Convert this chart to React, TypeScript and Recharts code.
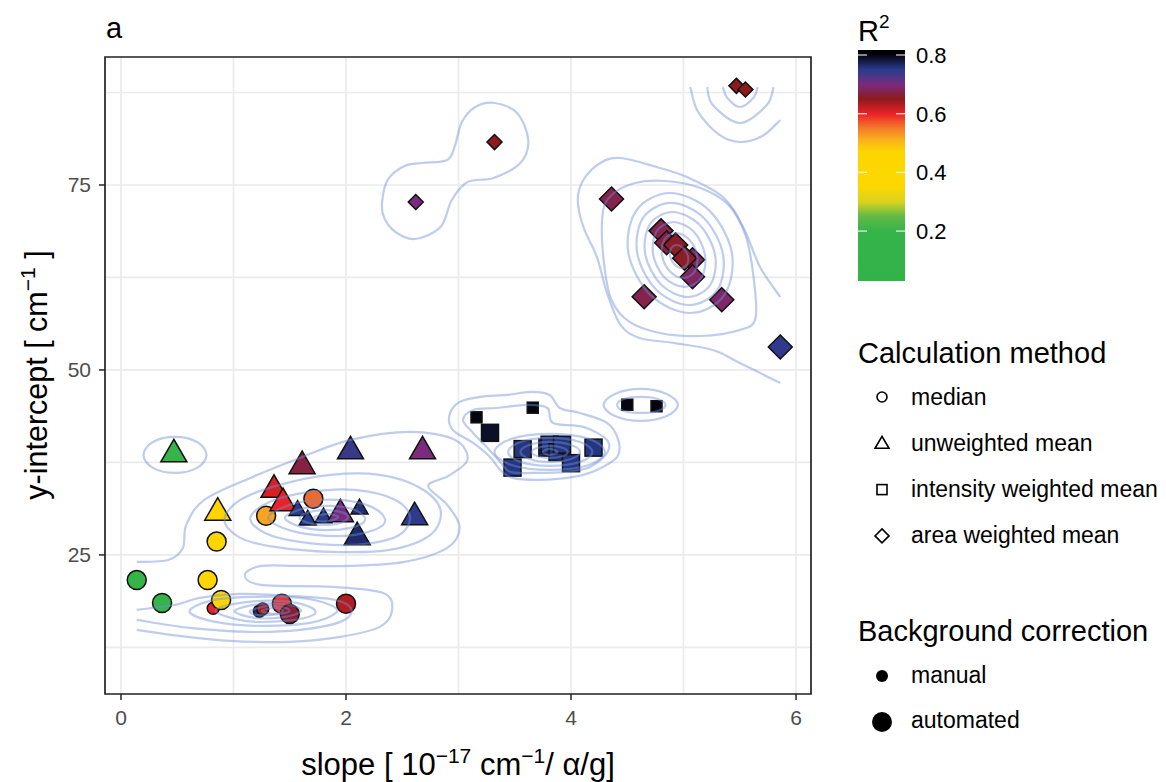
import React from 'react';
import { ComposedChart, Scatter, Line, XAxis, YAxis, ReferenceLine, ReferenceArea } from 'recharts';

interface Pt {
  x: number;
  y: number;
  r2: number;
  big: boolean;
}

type Ring = [number, number][];

const FONT = '"Liberation Sans", Arial, Helvetica, sans-serif';

// points per calculation method
const medianPts: Pt[] = [
  { x: 0.14, y: 21.6, r2: 0.18, big: true },
  { x: 0.365, y: 18.5, r2: 0.2, big: true },
  { x: 0.77, y: 21.6, r2: 0.42, big: true },
  { x: 0.85, y: 26.8, r2: 0.45, big: true },
  { x: 0.82, y: 17.8, r2: 0.6, big: false },
  { x: 0.89, y: 18.9, r2: 0.44, big: true },
  { x: 1.29, y: 30.3, r2: 0.52, big: true },
  { x: 1.71, y: 32.6, r2: 0.56, big: true },
  { x: 1.23, y: 17.4, r2: 0.76, big: false },
  { x: 1.26, y: 17.7, r2: 0.64, big: false },
  { x: 1.43, y: 18.4, r2: 0.59, big: true },
  { x: 1.5, y: 17.0, r2: 0.66, big: true },
  { x: 2.0, y: 18.4, r2: 0.63, big: true },
];

const unweightedPts: Pt[] = [
  { x: 0.47, y: 38.6, r2: 0.2, big: true },
  { x: 0.86, y: 30.7, r2: 0.42, big: true },
  { x: 1.61, y: 37.0, r2: 0.67, big: true },
  { x: 1.36, y: 33.8, r2: 0.61, big: true },
  { x: 1.44, y: 32.0, r2: 0.6, big: true },
  { x: 1.57, y: 31.0, r2: 0.745, big: false },
  { x: 1.66, y: 29.7, r2: 0.75, big: false },
  { x: 1.8, y: 30.0, r2: 0.75, big: false },
  { x: 1.95, y: 30.5, r2: 0.7, big: true },
  { x: 2.12, y: 31.2, r2: 0.76, big: false },
  { x: 2.1, y: 27.4, r2: 0.765, big: true },
  { x: 2.04, y: 39.0, r2: 0.74, big: true },
  { x: 2.68, y: 39.0, r2: 0.7, big: true },
  { x: 2.61, y: 30.1, r2: 0.745, big: true },
];

const intensityPts: Pt[] = [
  { x: 3.16, y: 43.6, r2: 0.8, big: false },
  { x: 3.28, y: 41.5, r2: 0.79, big: true },
  { x: 3.66, y: 44.9, r2: 0.8, big: false },
  { x: 4.5, y: 45.3, r2: 0.8, big: false },
  { x: 4.76, y: 45.1, r2: 0.8, big: false },
  { x: 3.57, y: 39.3, r2: 0.755, big: true },
  { x: 3.48, y: 36.8, r2: 0.755, big: true },
  { x: 3.79, y: 39.5, r2: 0.76, big: true },
  { x: 3.81, y: 39.9, r2: 0.755, big: true },
  { x: 3.88, y: 38.9, r2: 0.76, big: true },
  { x: 3.92, y: 39.9, r2: 0.755, big: true },
  { x: 4.0, y: 37.4, r2: 0.755, big: true },
  { x: 4.2, y: 39.5, r2: 0.755, big: true },
];

const areaPts: Pt[] = [
  { x: 2.62, y: 72.7, r2: 0.7, big: false },
  { x: 3.32, y: 80.8, r2: 0.65, big: false },
  { x: 5.47, y: 88.4, r2: 0.65, big: false },
  { x: 5.55, y: 87.9, r2: 0.65, big: false },
  { x: 4.36, y: 73.1, r2: 0.675, big: true },
  { x: 4.65, y: 59.9, r2: 0.675, big: true },
  { x: 5.34, y: 59.5, r2: 0.69, big: true },
  { x: 4.8, y: 68.8, r2: 0.675, big: true },
  { x: 4.85, y: 67.2, r2: 0.67, big: true },
  { x: 4.93, y: 66.9, r2: 0.655, big: true },
  { x: 5.08, y: 64.9, r2: 0.69, big: true },
  { x: 5.01, y: 65.1, r2: 0.655, big: true },
  { x: 5.08, y: 62.6, r2: 0.685, big: true },
  { x: 5.86, y: 53.1, r2: 0.745, big: true },
];

const xTicks = [0, 2, 4, 6];
const yTicks = [25, 50, 75];
const xMinor = [1, 3, 5];
const yMinor = [12.5, 37.5, 62.5, 87.5];
const r2Ticks = [0.2, 0.4, 0.6, 0.8];
const r2Range = [0.03, 0.817];

const colorStops: [number, string][] = [
  [0.03, '#33b24a'],
  [0.2, '#35b44a'],
  [0.25, '#62b946'],
  [0.3, '#d9d320'],
  [0.35, '#fdd700'],
  [0.47, '#fdd600'],
  [0.51, '#f9b21b'],
  [0.55, '#f47b2a'],
  [0.6, '#ea2128'],
  [0.65, '#8e1a1c'],
  [0.7, '#7a2b7e'],
  [0.75, '#283c8e'],
  [0.8, '#05040f'],
  [0.817, '#000000'],
];

// density contours (closed rings)
const peanut: Ring = [[2.32, 72.57], [2.37, 75.68], [2.52, 77.57], [2.68, 77.97], [2.9, 78.38], [2.97, 80.41], [3.03, 83.51], [3.15, 85.54], [3.32, 86.08], [3.52, 84.73], [3.62, 81.08], [3.55, 77.97], [3.31, 75.95], [3.08, 75.41], [2.94, 72.97], [2.84, 69.32], [2.61, 67.7], [2.44, 68.65], [2.34, 70.54]];
const greenRing: Ring = [[0.76, 38.51], [0.68, 36.8], [0.48, 36.08], [0.28, 36.8], [0.2, 38.51], [0.28, 40.23], [0.48, 40.95], [0.68, 40.23]];
const blackRing1: Ring = [[4.95, 45.27], [4.85, 43.78], [4.62, 43.11], [4.39, 43.78], [4.29, 45.27], [4.39, 46.76], [4.62, 47.43], [4.85, 46.76]];
const blackRing2: Ring = [[4.84, 45.27], [4.77, 44.46], [4.62, 44.19], [4.47, 44.46], [4.41, 45.27], [4.47, 46.08], [4.62, 46.35], [4.77, 46.08]];
const sq1: Ring = [[2.92, 43.92], [3.01, 45.68], [3.19, 46.35], [3.43, 46.62], [3.64, 47.03], [3.81, 46.62], [3.9, 44.86], [4.08, 44.19], [4.32, 42.84], [4.42, 40.54], [4.41, 38.24], [4.23, 36.49], [4.02, 35.54], [3.72, 35.14], [3.48, 35.41], [3.37, 36.49], [3.28, 38.24], [3.13, 40.14], [2.95, 41.89]];
const sq2: Ring = [[3.04, 43.24], [3.13, 44.59], [3.34, 44.86], [3.61, 45.27], [3.79, 44.86], [3.84, 42.84], [4.11, 42.3], [4.32, 40.54], [4.32, 38.78], [4.17, 36.89], [3.96, 36.22], [3.66, 36.08], [3.46, 36.22], [3.37, 37.57], [3.25, 39.59], [3.13, 41.49]];
const sq3: Ring = [[4.3, 38.92], [4.16, 37.16], [3.81, 36.49], [3.47, 37.16], [3.32, 38.92], [3.47, 40.68], [3.81, 41.35], [4.16, 40.68]];
const sq4: Ring = [[4.19, 38.92], [4.08, 37.57], [3.81, 37.03], [3.55, 37.57], [3.44, 38.92], [3.55, 40.27], [3.81, 40.81], [4.08, 40.27]];
const sq5: Ring = [[4.08, 38.92], [4.0, 37.97], [3.81, 37.57], [3.63, 37.97], [3.55, 38.92], [3.63, 39.86], [3.81, 40.27], [4.0, 39.86]];
const sq6: Ring = [[3.97, 38.92], [3.93, 38.38], [3.81, 38.11], [3.7, 38.38], [3.65, 38.92], [3.7, 39.46], [3.81, 39.73], [3.93, 39.46]];
const sq7: Ring = [[3.88, 38.92], [3.81, 38.51], [3.75, 38.92], [3.81, 39.32]];
const tri2: Ring = [[0.92, 29.73], [1.06, 32.43], [1.41, 34.46], [1.86, 35.81], [2.3, 35.81], [2.66, 34.05], [2.84, 31.08], [2.75, 27.7], [2.39, 25.68], [1.86, 25.41], [1.37, 26.08], [1.06, 27.3]];
const tri3: Ring = [[1.15, 30.0], [1.32, 32.16], [1.68, 33.51], [2.08, 33.78], [2.44, 32.43], [2.57, 30.0], [2.44, 27.43], [2.04, 26.35], [1.59, 26.76], [1.28, 27.97]];
const tri4: Ring = [[1.31, 30.14], [1.5, 31.76], [1.77, 32.43], [2.08, 32.16], [2.3, 30.81], [2.33, 29.05], [2.08, 27.7], [1.72, 27.7], [1.44, 28.65]];
const tri5: Ring = [[1.46, 30.14], [1.64, 31.35], [1.86, 31.62], [2.08, 31.08], [2.17, 29.73], [2.04, 28.65], [1.77, 28.38], [1.55, 29.05]];
const tri6: Ring = [[1.59, 30.14], [1.72, 30.95], [1.9, 30.95], [2.02, 30.27], [1.95, 29.32], [1.77, 29.05], [1.64, 29.46]];
const tri7: Ring = [[1.72, 30.14], [1.84, 30.54], [1.93, 30.14], [1.86, 29.59], [1.75, 29.59]];
const circ3: Ring = [[0.61, 17.3], [0.79, 18.78], [1.15, 19.32], [1.59, 19.19], [1.86, 18.24], [1.91, 17.16], [1.68, 15.81], [1.24, 15.41], [0.84, 15.95]];
const circ4: Ring = [[0.84, 17.43], [1.06, 18.51], [1.41, 18.78], [1.68, 17.97], [1.71, 16.89], [1.46, 16.08], [1.1, 16.08]];
const circ5: Ring = [[1.01, 17.43], [1.24, 18.38], [1.5, 18.24], [1.6, 17.43], [1.46, 16.62], [1.19, 16.49]];
const circ6: Ring = [[1.15, 17.43], [1.31, 18.11], [1.46, 17.84], [1.49, 17.3], [1.34, 16.89], [1.2, 16.89]];
const circ7: Ring = [[1.25, 17.43], [1.37, 17.84], [1.44, 17.43], [1.36, 17.03]];
const dia1: Ring = [[4.94, 66.89], [5.0, 66.43], [5.04, 65.34], [5.03, 64.24], [4.98, 63.78], [4.92, 64.24], [4.88, 65.34], [4.89, 66.43]];
const dia2: Ring = [[4.93, 68.51], [5.05, 67.62], [5.12, 65.47], [5.1, 63.32], [5.0, 62.43], [4.88, 63.32], [4.81, 65.47], [4.83, 67.62]];
const dia3: Ring = [[4.91, 70.0], [5.09, 68.72], [5.19, 65.61], [5.16, 62.5], [5.01, 61.22], [4.83, 62.5], [4.73, 65.61], [4.76, 68.72]];
const dia4: Ring = [[4.9, 71.35], [5.14, 69.66], [5.28, 65.61], [5.24, 61.55], [5.04, 59.86], [4.8, 61.55], [4.66, 65.61], [4.7, 69.66]];
const dia5: Ring = [[4.89, 72.57], [5.18, 70.55], [5.35, 65.68], [5.3, 60.8], [5.05, 58.78], [4.76, 60.8], [4.59, 65.68], [4.64, 70.55]];
const dia6: Ring = [[4.88, 73.92], [5.23, 71.54], [5.43, 65.81], [5.36, 60.08], [5.06, 57.7], [4.71, 60.08], [4.51, 65.81], [4.58, 71.54]];
const dia8: Ring = [[4.28, 70.95], [4.36, 73.65], [4.57, 75.27], [4.84, 75.54], [5.15, 74.59], [5.4, 72.3], [5.55, 68.24], [5.62, 62.84], [5.64, 57.03], [5.5, 55.41], [5.15, 54.59], [4.79, 55.0], [4.52, 56.49], [4.36, 59.46], [4.29, 64.86]];

// contours cut by the edge of the density grid (open)
const lowOuter: Ring = [[0.14, 24.05], [0.42, 24.32], [0.55, 25.95], [0.58, 29.05], [0.74, 32.43], [1.15, 35.41], [1.59, 38.11], [2.04, 40.54], [2.57, 41.62], [2.97, 40.54], [3.08, 37.84], [2.91, 35.68], [2.73, 34.32], [2.9, 31.76], [3.01, 28.78], [2.9, 25.95], [2.52, 24.05], [2.04, 23.51], [1.59, 23.51], [1.25, 23.51], [1.1, 22.3], [1.25, 20.95], [1.88, 20.68], [2.33, 19.86], [2.41, 17.57], [2.3, 15.27], [1.95, 13.92], [1.5, 13.24], [0.97, 13.38], [0.52, 14.05], [0.14, 14.86]];
const circ2: Ring = [[0.14, 17.57], [0.48, 18.24], [0.7, 19.19], [1.06, 19.73], [1.5, 19.46], [1.9, 18.92], [2.05, 17.57], [1.95, 15.95], [1.59, 14.86], [1.15, 14.59], [0.61, 15.14], [0.14, 16.22]];
const diaOuter: Ring = [[5.86, 59.86], [5.68, 63.92], [5.53, 69.32], [5.35, 73.38], [5.03, 76.08], [4.76, 77.43], [4.44, 78.65], [4.26, 77.97], [4.11, 75.68], [4.06, 72.97], [4.11, 69.32], [4.23, 65.27], [4.32, 60.41], [4.44, 56.08], [4.61, 54.32], [4.91, 53.65], [5.26, 52.7], [5.5, 50.95], [5.86, 48.24]];
const arc1: Ring = [[5.35, 88.24], [5.39, 86.76], [5.5, 85.54], [5.62, 86.76], [5.66, 88.24]];
const arc2: Ring = [[5.21, 88.24], [5.26, 85.81], [5.5, 83.38], [5.74, 85.81], [5.8, 88.24]];
const arc3: Ring = [[5.06, 88.24], [5.13, 84.86], [5.32, 81.76], [5.5, 80.81], [5.7, 81.62], [5.86, 83.78]];

const closedRings = [peanut, greenRing, blackRing1, blackRing2, sq1, sq2, sq3, sq4, sq5, sq6, sq7, tri2, tri3, tri4, tri5, tri6, tri7, circ3, circ4, circ5, circ6, circ7, dia1, dia2, dia3, dia4, dia5, dia6, dia8];
const openRings = [lowOuter, circ2, diaOuter, arc1, arc2, arc3];

// catmull-rom curve, closed or open, passed to recharts as a curve factory
const smoothCurve = (closed: boolean) => (context: any) => {
  let pts: number[][] = [];
  return {
    areaStart() {},
    areaEnd() {},
    lineStart() {
      pts = [];
    },
    point(x: number, y: number) {
      pts.push([x, y]);
    },
    lineEnd() {
      const n = pts.length;
      if (n < 2) return;
      const at = (i: number) => (closed ? pts[(i + n) % n] : pts[Math.max(0, Math.min(n - 1, i))]);
      context.moveTo(pts[0][0], pts[0][1]);
      const segs = closed ? n : n - 1;
      for (let i = 0; i < segs; i++) {
        const p0 = at(i - 1);
        const p1 = at(i);
        const p2 = at(i + 1);
        const p3 = at(i + 2);
        context.bezierCurveTo(
          p1[0] + (p2[0] - p0[0]) / 6,
          p1[1] + (p2[1] - p0[1]) / 6,
          p2[0] - (p3[0] - p1[0]) / 6,
          p2[1] - (p3[1] - p1[1]) / 6,
          p2[0],
          p2[1]
        );
      }
      if (closed) context.closePath();
    },
  };
};
const closedCurve = smoothCurve(true);
const openCurve = smoothCurve(false);

const hexToRgb = (h: string) => [1, 3, 5].map((i) => parseInt(h.slice(i, i + 2), 16));

const r2Color = (v: number): string => {
  for (let i = 1; i < colorStops.length; i++) {
    const [v1, c1] = colorStops[i];
    if (v <= v1) {
      const [v0, c0] = colorStops[i - 1];
      const t = Math.max(0, (v - v0) / (v1 - v0));
      const a = hexToRgb(c0);
      const b = hexToRgb(c1);
      return `rgb(${a.map((c, k) => Math.round(c + (b[k] - c) * t)).join(',')})`;
    }
  }
  return colorStops[colorStops.length - 1][1];
};

const Marker = ({ cx, cy, payload, kind }: any) => {
  const style = { fill: r2Color(payload.r2), stroke: '#111', strokeWidth: 1.5 };
  const big = payload.big;
  if (kind === 'circle') return <circle cx={cx} cy={cy} r={big ? 9.5 : 6} {...style} />;
  if (kind === 'triangle') {
    const s = big ? 26 : 17;
    const h = s * 0.866;
    return (
      <polygon
        points={`${cx},${cy - (2 * h) / 3} ${cx - s / 2},${cy + h / 3} ${cx + s / 2},${cy + h / 3}`}
        {...style}
      />
    );
  }
  if (kind === 'square') {
    const s = big ? 17 : 11;
    return <rect x={cx - s / 2} y={cy - s / 2} width={s} height={s} {...style} />;
  }
  const d = big ? 12 : 7.5;
  return <polygon points={`${cx},${cy - d} ${cx + d},${cy} ${cx},${cy + d} ${cx - d},${cy}`} {...style} />;
};

const toRows = (ring: Ring) => ring.map(([x, y]) => ({ x, y }));

const contourProps = {
  dataKey: 'y',
  stroke: '#6f8fd8',
  strokeOpacity: 0.45,
  strokeWidth: 2.2,
  dot: false,
  activeDot: false,
  isAnimationActive: false,
  legendType: 'none' as const,
  zIndex: 700,
};

// colour bar geometry (legend only)
const BAR = { x: 858, top: 50, w: 47, h: 231 };
const barY = (v: number) => BAR.top + ((r2Range[1] - v) / (r2Range[1] - r2Range[0])) * BAR.h;

const legendShapes = ['median', 'unweighted mean', 'intensity weighted mean', 'area weighted mean'];
const legendSizes = ['manual', 'automated'];

const ShapeIcon = ({ i, cx, cy }: { i: number; cx: number; cy: number }) => {
  const st = { fill: 'none', stroke: '#000', strokeWidth: 1.6 };
  if (i === 0) return <circle cx={cx} cy={cy} r={5} {...st} />;
  if (i === 1) return <polygon points={`${cx},${cy - 7} ${cx - 7},${cy + 5} ${cx + 7},${cy + 5}`} {...st} />;
  if (i === 2) return <rect x={cx - 5} y={cy - 5} width={10} height={10} {...st} />;
  return <polygon points={`${cx},${cy - 7} ${cx + 7},${cy} ${cx},${cy + 7} ${cx - 7},${cy}`} {...st} />;
};

const App: React.FC = () => {
  return (
    <div style={{ position: 'absolute', left: 0, top: 0, width: 1166, height: 782, background: '#fff', fontFamily: FONT }}>
      <div style={{ position: 'absolute', left: 0, top: 0 }}>
        <ComposedChart width={1166} height={782} margin={{ top: 57, right: 355, bottom: 38, left: 45 }}>
          <XAxis
            type="number"
            dataKey="x"
            domain={[-0.142, 6.133]}
            ticks={xTicks}
            allowDataOverflow
            height={50}
            axisLine={false}
            tickSize={6}
            tickMargin={10}
            tickLine={{ stroke: '#333', strokeWidth: 1.6 }}
            tick={{ fill: '#4d4d4d', fontSize: 21, fontFamily: FONT }}
          />
          <YAxis
            type="number"
            dataKey="y"
            domain={[6.2, 92.3]}
            ticks={yTicks}
            allowDataOverflow
            width={60}
            axisLine={false}
            tickSize={6}
            tickMargin={8}
            tickLine={{ stroke: '#333', strokeWidth: 1.6 }}
            tick={{ fill: '#4d4d4d', fontSize: 21, fontFamily: FONT }}
          />
          {[...xTicks, ...xMinor].map((v) => (
            <ReferenceLine key={`gx${v}`} x={v} stroke="#ebebeb" strokeWidth={1.7} zIndex={-100} />
          ))}
          {[...yTicks, ...yMinor].map((v) => (
            <ReferenceLine key={`gy${v}`} y={v} stroke="#ebebeb" strokeWidth={1.7} zIndex={-100} />
          ))}
          <Scatter data={medianPts} shape={(p: any) => <Marker {...p} kind="circle" />} isAnimationActive={false} />
          <Scatter data={unweightedPts} shape={(p: any) => <Marker {...p} kind="triangle" />} isAnimationActive={false} />
          <Scatter data={intensityPts} shape={(p: any) => <Marker {...p} kind="square" />} isAnimationActive={false} />
          <Scatter data={areaPts} shape={(p: any) => <Marker {...p} kind="diamond" />} isAnimationActive={false} />
          {closedRings.map((ring, i) => (
            <Line key={`c${i}`} data={toRows(ring)} type={closedCurve as any} {...contourProps} />
          ))}
          {openRings.map((ring, i) => (
            <Line key={`o${i}`} data={toRows(ring)} type={openCurve as any} {...contourProps} />
          ))}
          <ReferenceArea
            x1={-0.142}
            x2={6.133}
            y1={6.2}
            y2={92.3}
            fill="none"
            fillOpacity={0}
            stroke="#222"
            strokeWidth={1.7}
            zIndex={900}
          />
        </ComposedChart>
      </div>
      <svg width={1166} height={782} style={{ position: 'absolute', left: 0, top: 0, pointerEvents: 'none' }} fontFamily={FONT}>
        <defs>
          <linearGradient id="r2grad" x1="0" y1="0" x2="0" y2="1">
            {[...colorStops].reverse().map(([v, c]) => (
              <stop key={v} offset={(r2Range[1] - v) / (r2Range[1] - r2Range[0])} stopColor={c} />
            ))}
          </linearGradient>
        </defs>
        <text x={106} y={38} fontSize={29} fill="#000">a</text>
        <text x={458} y={775} fontSize={31} textAnchor="middle" fill="#000">
          slope [ 10<tspan dy={-12} fontSize={21}>−17</tspan>
          <tspan dy={12}> cm</tspan>
          <tspan dy={-12} fontSize={21}>−1</tspan>
          <tspan dy={12}>/ α/g]</tspan>
        </text>
        <text transform="translate(47,375) rotate(-90)" fontSize={30.5} textAnchor="middle" fill="#000">
          y-intercept [ cm<tspan dy={-12} fontSize={21}>−1</tspan>
          <tspan dy={12}> ]</tspan>
        </text>

        <text x={858} y={41} fontSize={29} fill="#000">
          R<tspan dy={-13} fontSize={19}>2</tspan>
        </text>
        <rect x={BAR.x} y={BAR.top} width={BAR.w} height={BAR.h} fill="url(#r2grad)" />
        {r2Ticks.map((v) => (
          <g key={v}>
            <line x1={BAR.x} x2={BAR.x + 9} y1={barY(v)} y2={barY(v)} stroke="#fff" strokeOpacity={0.75} strokeWidth={1.4} />
            <line x1={BAR.x + BAR.w - 9} x2={BAR.x + BAR.w} y1={barY(v)} y2={barY(v)} stroke="#fff" strokeOpacity={0.75} strokeWidth={1.4} />
            <text x={916} y={barY(v)} dy="0.36em" fontSize={22} fill="#000">
              {v.toFixed(1)}
            </text>
          </g>
        ))}

        <text x={858} y={363} fontSize={29} fill="#000">Calculation method</text>
        {legendShapes.map((label, i) => (
          <g key={label}>
            <ShapeIcon i={i} cx={882} cy={397 + i * 46.3} />
            <text x={911} y={405 + i * 46} fontSize={23} fill="#000">{label}</text>
          </g>
        ))}

        <text x={858} y={641} fontSize={29} fill="#000">Background correction</text>
        {legendSizes.map((label, i) => (
          <g key={label}>
            <circle cx={882} cy={676 + i * 46} r={i === 0 ? 6 : 10} fill="#000" />
            <text x={911} y={683 + i * 45} fontSize={23} fill="#000">{label}</text>
          </g>
        ))}
      </svg>
    </div>
  );
};

export default App;
